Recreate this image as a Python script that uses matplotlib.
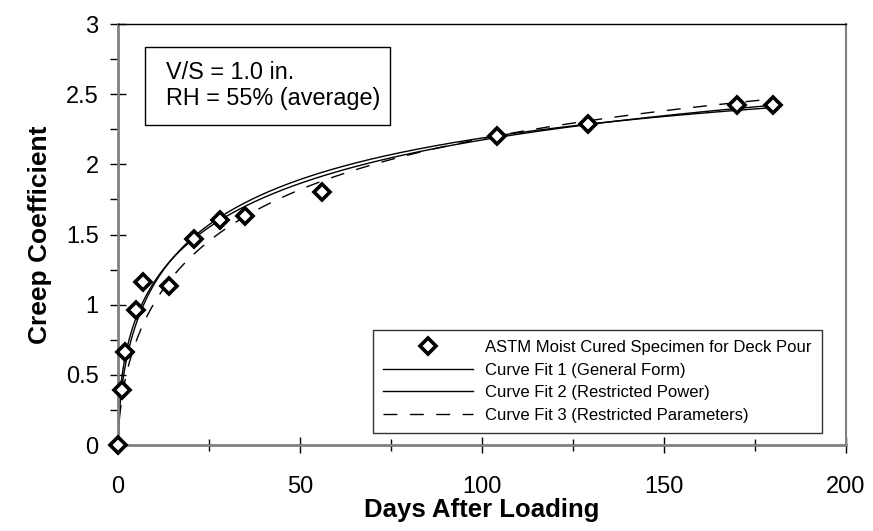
import numpy as np
import matplotlib
matplotlib.use("Agg")
import matplotlib.pyplot as plt
from matplotlib.patches import Rectangle
from matplotlib.ticker import MultipleLocator, FuncFormatter

plt.rcParams['font.family'] = ['Liberation Sans', 'DejaVu Sans']

# Measured creep coefficients (ASTM moist cured specimen, deck pour)
days = [0, 1, 2, 5, 7, 14, 21, 28, 35, 56, 104, 129, 170, 180]
creep = [0.0, 0.39, 0.66, 0.96, 1.16, 1.13, 1.47, 1.60, 1.63, 1.80, 2.20, 2.29, 2.42, 2.42]

# Fitted ACI-type model parameters: phi(t) = phi_u * t^psi / (d + t^psi)
fit1 = dict(phi_u=3.63, d=6.7, psi=0.5)    # general form
fit2 = dict(phi_u=3.14, d=6.9, psi=0.6)    # restricted power
fit3 = dict(phi_u=3.56, d=10.0, psi=0.6)   # restricted parameters

labels = ["ASTM Moist Cured Specimen for Deck Pour",
          "Curve Fit 1 (General Form)",
          "Curve Fit 2 (Restricted Power)",
          "Curve Fit 3 (Restricted Parameters)"]


def creep_model(t, phi_u, d, psi):
    tp = np.power(t, psi)
    return phi_u * tp / (d + tp)


t = np.linspace(0, 180, 400)

fig = plt.figure(figsize=(8.73, 5.31), dpi=100)
ax = fig.add_axes([118 / 873, 1 - 445 / 531, 728 / 873, 421 / 531])

l1, = ax.plot(t, creep_model(t, **fit1), color='black', lw=1.0)
l2, = ax.plot(t, creep_model(t, **fit2), color='black', lw=1.0)
l3, = ax.plot(t, creep_model(t, **fit3), color='black', lw=1.0,
              dashes=(10, 9))
pts, = ax.plot(days, creep, linestyle='none', marker='D', markersize=8.5,
               markerfacecolor='white', markeredgecolor='black',
               markeredgewidth=2.6, zorder=5, clip_on=False)

ax.set_xlim(0, 200)
ax.set_ylim(0, 3)
ax.xaxis.set_major_locator(MultipleLocator(50))
ax.xaxis.set_minor_locator(MultipleLocator(25))
ax.yaxis.set_major_locator(MultipleLocator(0.5))
ax.yaxis.set_minor_locator(MultipleLocator(0.25))
ax.yaxis.set_major_formatter(FuncFormatter(lambda v, p: f"{v:g}"))
ax.tick_params(axis='both', which='major', direction='inout', length=12,
               width=1.0, color='black', labelsize=17)
ax.tick_params(axis='y', which='major', pad=8)
ax.tick_params(axis='x', which='major', pad=16)
ax.tick_params(axis='x', which='minor', direction='inout', length=8,
               width=1.0, color='black')
ax.tick_params(axis='y', which='minor', direction='out', length=6,
               width=1.0, color='black')

for side in ('left', 'bottom'):
    ax.spines[side].set_color('#808080')
    ax.spines[side].set_linewidth(2.0)
ax.spines['top'].set_color('black')
ax.spines['top'].set_linewidth(1.0)
ax.spines['right'].set_color('#808080')
ax.spines['right'].set_linewidth(1.5)

ax.set_xlabel('Days After Loading', fontsize=18.5, fontweight='bold', labelpad=0)
ax.set_ylabel('Creep Coefficient', fontsize=19, fontweight='bold', labelpad=10)

# Annotation box with specimen conditions
ax.add_patch(Rectangle((0.037, 0.760), 0.337, 0.186, transform=ax.transAxes,
                       facecolor='white', edgecolor='black', linewidth=1.0,
                       zorder=6))
ax.text(0.066, 0.853, 'V/S = 1.0 in.\nRH = 55% (average)', transform=ax.transAxes,
        fontsize=16.8, va='center', ha='left', linespacing=1.17, zorder=7)

leg = ax.legend([pts, l1, l2, l3], labels, loc='lower right',
                bbox_to_anchor=(0.967, 0.028), fontsize=12, frameon=True,
                fancybox=False, edgecolor='black', handlelength=5.4,
                handletextpad=0.7, labelspacing=0.46, borderpad=0.62,
                borderaxespad=0)
leg.get_frame().set_linewidth(1.0)

fig.savefig('out.png', dpi=100)
